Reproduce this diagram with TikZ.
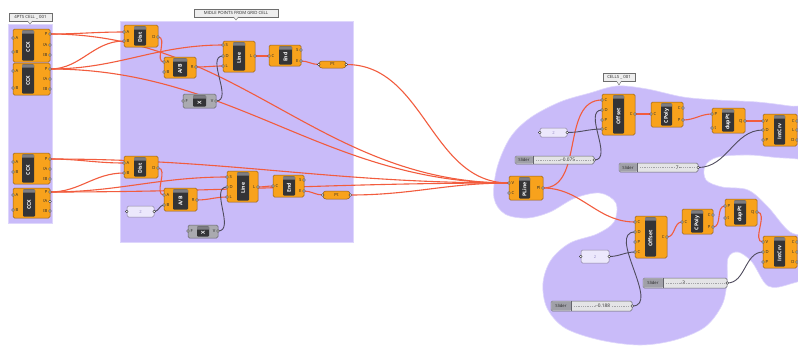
\documentclass[tikz,border=0pt]{standalone}
\usepackage{fontspec}
\setmainfont{Open Sans}
\usetikzlibrary{fit,calc}
\definecolor{ghorange}{RGB}{248,162,28}
\definecolor{ghborder}{RGB}{150,96,24}
\definecolor{ghdark}{RGB}{52,52,54}
\definecolor{ghcap}{RGB}{125,125,130}
\definecolor{ghgray}{RGB}{170,170,176}
\definecolor{ghgrayb}{RGB}{100,100,108}
\definecolor{grpfill}{RGB}{201,187,249}
\definecolor{grpline}{RGB}{222,214,252}
\definecolor{wirered}{RGB}{242,92,62}
\definecolor{wiredark}{RGB}{80,76,94}
\definecolor{ghtext}{RGB}{40,40,40}
\definecolor{panelfill}{RGB}{236,232,252}
\definecolor{panelline}{RGB}{140,132,160}
\definecolor{paneltext}{RGB}{150,140,200}
\definecolor{sllabel}{RGB}{160,160,168}
\definecolor{slbody}{RGB}{228,228,230}
\definecolor{tagfill}{RGB}{238,238,238}
\definecolor{tagline}{RGB}{110,110,110}
\pgfdeclarelayer{bg}\pgfdeclarelayer{wires}\pgfsetlayers{bg,wires,main}
\tikzset{
 comp/.style={rectangle, draw=ghborder, fill=ghorange, rounded corners=1.5pt, line width=0.5pt, inner sep=0pt},
 compgray/.style={comp, draw=ghgrayb, fill=ghgray},
 cbar/.style={rectangle, fill=ghdark, rounded corners=1pt, inner sep=0pt},
 cname/.style={font=\bfseries\fontsize{5.2}{5.2}\selectfont, text=white, rotate=90, inner sep=0pt},
 knob/.style={circle, draw=ghtext, fill=white, line width=0.35pt, inner sep=0pt, minimum size=2.6pt},
 plabel/.style={font=\fontsize{4.2}{4.2}\selectfont, text=ghtext, inner sep=0pt},
 wire/.style={out=0, in=180},
 redwire/.style={draw=wirered, line width=1.1pt},
 darkwire/.style={draw=wiredark, line width=0.9pt},
 ptcap/.style={rectangle, draw=ghborder, fill=ghorange, rounded corners=3pt, line width=0.5pt, inner sep=0pt},
 panelbox/.style={rectangle, draw=panelline, fill=panelfill, rounded corners=1.5pt, line width=0.5pt, inner sep=0pt},
 slbox/.style={rectangle, draw=ghgrayb, fill=slbody, rounded corners=1.5pt, line width=0.5pt, inner sep=0pt},
 tagbox/.style={rectangle, draw=tagline, fill=tagfill, line width=0.4pt, inner sep=0pt},
 tagtext/.style={font=\fontsize{4.3}{4.3}\selectfont, text=ghtext, inner sep=0pt},
 grp/.style={fill=grpfill, draw=grpline, line width=0.6pt},
}
% component: name, x1, y1, x2, y2, bar x1, bar x2, label, style
\newcommand\ghcomp[9]{%
 \node[#9, fit={(#2,#3)(#4,#5)}] (#1) {};
 \node[cbar, fit={(#6,#3+1.3)(#7,#5-1.3)}] (#1-bar) {};
 \fill[ghcap] (#6,#3+4.5) [rounded corners=1pt] -- (#6,#3+1.3) -- (#7,#3+1.3) [sharp corners] -- (#7,#3+4.5) -- cycle;
 \node[cname] (#1-name) at ($(#1-bar.center)+(0,1.6)$) {#8};
}
\newcommand\ghin[5]{%
 \coordinate (#1-#2) at (#3,#4);
 \node[knob] (#1-#2-k) at (#1-#2) {};
 \node[plabel, anchor=west] (#1-#2-t) at (#3+2.4,#4) {#5};
}
\newcommand\ghout[5]{%
 \coordinate (#1-#2) at (#3,#4);
 \node[knob] (#1-#2-k) at (#1-#2) {};
 \node[plabel, anchor=east] (#1-#2-t) at (#3-2.4,#4) {#5};
}
% point param: name x1 y1 x2 y2
\newcommand\ghpt[5]{%
 \node[ptcap, fit={(#2,#3)(#4,#5)}] (#1) {};
 \node[plabel] (#1-t) at (#1.center) {Pt};
 \coordinate (#1-in) at (#1.west);
 \coordinate (#1-out) at (#1.east);
 \node[knob] (#1-in-k) at (#1-in) {};
 \node[knob] (#1-out-k) at (#1-out) {};
}
% panel: name x1 y1 x2 y2 text
\newcommand\ghpanel[6]{%
 \node[panelbox, fit={(#2,#3)(#4,#5)}] (#1) {};
 \node[plabel, text=paneltext] (#1-t) at (#1.center) {#6};
 \coordinate (#1-in) at (#1.west);
 \coordinate (#1-out) at (#1.east);
 \node[knob] (#1-in-k) at (#1-in) {};
 \node[knob] (#1-out-k) at (#1-out) {};
}
% slider: name x1 y1 x2 y2 xsep xknob anchor value
\newcommand\ghslider[9]{%
 \node[slbox, fit={(#2,#3)(#4,#5)}] (#1) {};
 \fill[sllabel, rounded corners=1.2pt] (#2+0.3,#3+0.3) rectangle (#6,#5-0.3);
 \draw[ghgrayb, line width=0.3pt] (#6,#3) -- (#6,#5);
 \node[plabel] (#1-lab) at ($(#2,#3)!0.5!(#6,#5)$) {Slider};
 \draw[ghcap!70, line width=0.5pt, dash pattern=on 0.4pt off 1.4pt] (#6+3,{(#3+#5)/2}) -- (#4-3,{(#3+#5)/2});
 \node[circle, draw=ghtext, fill=slbody, line width=0.6pt, inner sep=0pt, minimum size=2.6pt] (#1-knobv) at (#7,{(#3+#5)/2}) {};
 \node[plabel, anchor=#8, fill=slbody, inner xsep=0.8pt, font=\fontsize{4.8}{4.8}\selectfont] (#1-val) at (#1-knobv.#8) {#9};
 \coordinate (#1-out) at (#1.east);
 \node[knob] (#1-out-k) at (#1-out) {};
}
% group tag: name x1 y1 x2 y2 xptr yptr text
\newcommand\ghtag[8]{%
 \node[tagbox, fit={(#2,#3)(#4,#5)}] (#1) {};
 \fill[tagfill] (#6-2.5,#5-0.3) -- (#6+2.5,#5-0.3) -- (#6,#7) -- cycle;
 \draw[tagline, line width=0.4pt] (#6-2.5,#5) -- (#6,#7) -- (#6+2.5,#5);
 \node[tagtext] (#1-t) at (#1.center) {#8};
}
\begin{document}
\begin{tikzpicture}[x=1pt, y=-1pt]
\useasboundingbox (0,0) rectangle (798,346);

% ---------- groups ----------
\begin{pgfonlayer}{bg}
\fill[white] (0,0) rectangle (798,346);
\begin{scope}
\clip (0,0) rectangle (798,346);
\path[grp] (8,24) rectangle (52,223);
\path[grp] (120,21) rectangle (353,242);
\path[grp] plot[smooth cycle, tension=0.55] coordinates {(497,168) (510,138) (530,118) (560,102) (590,93) (617,86) (647,89) (683,97) (717,100) (757,102) (790,106) (815,110) (815,155) (785,158) (750,155) (718,157) (705,166) (706,180) (722,187) (748,190) (768,207) (790,232) (815,240) (815,272) (790,284) (768,286) (752,262) (738,252) (728,258) (727,282) (722,305) (705,327) (675,340) (640,345) (600,340) (565,328) (547,308) (543,283) (551,260) (570,243) (597,234) (614,222) (616,203) (600,193) (575,198) (550,212) (527,218) (505,214) (494,198)};
\end{scope}
\end{pgfonlayer}
\ghtag{tag1}{9}{13}{52}{21}{30}{24}{4PTS CELL \_ 001}
\ghtag{tag2}{194}{9}{278}{17}{236}{20}{MIDLE POINTS FROM GRID CELL}
\ghtag{tag3}{603}{73}{635}{81}{619}{85}{CELLS \_ 001}

% ---------- group 1 ----------
\ghcomp{ccx1}{13}{29}{50}{62}{22}{34}{CCX}{comp}
\ghin{ccx1}{A}{13}{38}{A}\ghin{ccx1}{B}{13}{52}{B}
\ghout{ccx1}{P}{50}{34}{P}\ghout{ccx1}{tA}{50}{45}{tA}\ghout{ccx1}{tB}{50}{55}{tB}
\ghcomp{ccx2}{13}{63}{50}{95}{22}{34}{CCX}{comp}
\ghin{ccx2}{A}{13}{71}{A}\ghin{ccx2}{B}{13}{88}{B}
\ghout{ccx2}{P}{50}{69}{P}\ghout{ccx2}{tA}{50}{79}{tA}\ghout{ccx2}{tB}{50}{89}{tB}
\ghcomp{ccx3}{13}{153}{50}{184}{22}{34}{CCX}{comp}
\ghin{ccx3}{A}{13}{162}{A}\ghin{ccx3}{B}{13}{172}{B}
\ghout{ccx3}{P}{50}{159}{P}\ghout{ccx3}{tA}{50}{169}{tA}\ghout{ccx3}{tB}{50}{179}{tB}
\ghcomp{ccx4}{13}{188}{50}{218}{23}{35}{CCX}{comp}
\ghin{ccx4}{A}{13}{195}{A}\ghin{ccx4}{B}{13}{210}{B}
\ghout{ccx4}{P}{50}{192}{P}\ghout{ccx4}{tA}{50}{201.5}{tA}\ghout{ccx4}{tB}{50}{211}{tB}

% ---------- group 2, upper ----------
\ghcomp{dist1}{124}{25}{158}{47}{134}{146}{Dist}{comp}
\ghin{dist1}{A}{124}{32}{A}\ghin{dist1}{B}{124}{41}{B}\ghout{dist1}{D}{158}{37}{D}
\ghcomp{ab1}{164}{57}{196}{78}{173}{187}{A/B}{comp}
\ghin{ab1}{A}{164}{62}{A}\ghin{ab1}{B}{164}{72}{B}\ghout{ab1}{R}{196}{67}{R}
\ghcomp{line1}{223}{41}{255}{72}{233}{245}{Line}{comp}
\ghin{line1}{S}{223}{45}{S}\ghin{line1}{D}{223}{56}{D}\ghin{line1}{L}{223}{66}{L}\ghout{line1}{Lo}{255}{56}{L}
\ghcomp{end1}{269}{45}{301}{66}{279}{292}{End}{comp}
\ghin{end1}{C}{269}{56}{C}\ghout{end1}{S}{301}{50}{S}\ghout{end1}{E}{301}{61}{E}
\ghpt{pt1}{319}{61}{346}{68}
\ghcomp{x1}{183}{94}{216}{108}{193}{206}{X}{compgray}
\ghin{x1}{F}{183}{101}{F}\ghout{x1}{V}{216}{101}{V}

% ---------- group 2, lower ----------
\ghcomp{dist2}{124}{156}{158}{178}{134}{146}{Dist}{comp}
\ghin{dist2}{A}{124}{163}{A}\ghin{dist2}{B}{124}{173}{B}\ghout{dist2}{D}{158}{168}{D}
\ghcomp{ab2}{164}{188}{197}{211}{173}{188}{A/B}{comp}
\ghin{ab2}{A}{164}{195}{A}\ghin{ab2}{B}{164}{205}{B}\ghout{ab2}{R}{197}{200}{R}
\ghpanel{pan1}{127}{206}{154}{217}{2}
\ghcomp{line2}{227}{171}{258}{202}{237}{249}{Line}{comp}
\ghin{line2}{S}{227}{177}{S}\ghin{line2}{D}{227}{187}{D}\ghin{line2}{L}{227}{197}{L}\ghout{line2}{Lo}{258}{187}{L}
\ghcomp{end2}{273}{175}{304}{197}{283}{295}{End}{comp}
\ghin{end2}{C}{273}{186}{C}\ghout{end2}{S}{304}{180}{S}\ghout{end2}{E}{304}{191}{E}
\ghpt{pt2}{323}{191}{350}{199}
\ghcomp{x2}{188}{225}{218}{238}{197}{209}{X}{compgray}
\ghin{x2}{F}{188}{231}{F}\ghout{x2}{V}{218}{231}{V}

% ---------- group 3 ----------
\ghcomp{pline}{509}{176}{543}{200}{519}{530}{PLine}{comp}
\ghin{pline}{V}{509}{183}{V}\ghin{pline}{C}{509}{193}{C}\ghout{pline}{Pl}{543}{188}{Pl}
\ghpanel{pan2}{540}{128}{567}{137}{2}
\ghslider{sl1}{515}{156}{594}{164}{533}{562}{west}{-0.075}
\ghslider{sl2}{619}{163}{698}{172}{637}{678}{east}{7}
\ghcomp{off1}{602}{94}{635}{135}{613}{624}{Offset}{comp}
\ghin{off1}{C}{602}{100}{C}\ghin{off1}{D}{602}{110}{D}\ghin{off1}{P}{602}{120}{P}\ghin{off1}{Cb}{602}{129}{C}\ghout{off1}{Co}{635}{114}{C}
\ghcomp{cp1}{651}{102}{683}{127}{661}{672}{CPoly}{comp}
\ghin{cp1}{C}{651}{114}{C}\ghout{cp1}{Co}{683}{108}{C}\ghout{cp1}{P}{683}{120}{P}
\ghcomp{dup1}{712}{108}{745}{133}{722}{734}{dupPt}{comp}
\ghin{dup1}{P}{712}{114}{P}\ghin{dup1}{t}{712}{128}{t}\ghout{dup1}{Q}{745}{121}{Q}
\ghcomp{int1}{763}{114}{797}{146}{774}{785}{IntCrv}{comp}
\ghin{int1}{V}{763}{121}{V}\ghin{int1}{D}{763}{130}{D}\ghin{int1}{P}{763}{140}{P}
\ghout{int1}{C}{797}{121}{C}\ghout{int1}{L}{797}{130}{L}\ghout{int1}{Do}{797}{140}{D}

\ghpanel{pan3}{581}{250}{609}{263}{2}
\ghslider{sl3}{643}{278}{727}{288}{663}{683}{west}{3}
\ghslider{sl4}{551}{301}{632}{311}{571}{597}{west}{-0.188}
\ghcomp{off2}{635}{216}{667}{258}{645}{656}{Offset}{comp}
\ghin{off2}{C}{635}{222}{C}\ghin{off2}{D}{635}{232}{D}\ghin{off2}{P}{635}{242}{P}\ghin{off2}{Cb}{635}{252}{C}\ghout{off2}{Co}{667}{237}{C}
\ghcomp{cp2}{682}{209}{713}{234}{691}{703}{CPoly}{comp}
\ghin{cp2}{C}{682}{222}{C}\ghout{cp2}{Co}{713}{215}{C}\ghout{cp2}{P}{713}{227}{P}
\ghcomp{dup2}{725}{199}{757}{226}{734}{746}{dupPt}{comp}
\ghin{dup2}{P}{725}{206}{P}\ghin{dup2}{t}{725}{218}{t}\ghout{dup2}{Q}{757}{212}{Q}
\ghcomp{int2}{763}{236}{797}{268}{774}{785}{IntCrv}{comp}
\ghin{int2}{V}{763}{242}{V}\ghin{int2}{D}{763}{252}{D}\ghin{int2}{P}{763}{262}{P}
\ghout{int2}{C}{797}{242}{C}\ghout{int2}{L}{797}{252}{L}\ghout{int2}{Do}{797}{262}{D}

% ---------- wires ----------
\begin{pgfonlayer}{wires}
\draw[redwire] (ccx1-P) to[wire] (dist1-A);
\draw[redwire] (ccx1-P) to[wire] (pline-V);
\draw[redwire] (ccx2-P) to[wire] (dist1-B);
\draw[redwire] (ccx2-P) to[wire] (line1-S);
\draw[redwire] (ccx2-P) to[wire] (pline-V);
\draw[redwire] (dist1-D) to[wire] (ab1-A);
\draw[redwire] (ab1-R) to[wire] (line1-L);
\draw[redwire] (line1-Lo) to[wire] (end1-C);
\draw[redwire] (end1-E) to[wire] (pt1-in);
\draw[redwire] (pt1-out) to[wire] (pline-V);
\draw[redwire] (ccx3-P) to[wire] (dist2-A);
\draw[redwire] (ccx3-P) to[wire] (pline-V);
\draw[redwire] (ccx4-P) to[wire] (dist2-B);
\draw[redwire] (ccx4-P) to[wire] (line2-S);
\draw[redwire] (ccx4-P) to[wire] (pline-V);
\draw[redwire] (dist2-D) to[wire] (ab2-A);
\draw[redwire] (ab2-R) to[wire] (line2-L);
\draw[redwire] (line2-Lo) to[wire] (end2-C);
\draw[redwire] (end2-E) to[wire] (pt2-in);
\draw[redwire] (pt2-out) to[wire] (pline-V);
\draw[redwire] (pline-Pl) to[wire] (off1-C);
\draw[redwire] (pline-Pl) to[wire] (off2-C);
\draw[redwire] (off1-Co) to[wire] (cp1-C);
\draw[redwire] (cp1-P) to[wire] (dup1-P);
\draw[redwire] (dup1-Q) to[wire] (int1-V);
\draw[redwire] (off2-Co) to[wire] (cp2-C);
\draw[redwire] (cp2-P) to[wire] (dup2-P);
\draw[redwire] (dup2-Q) to[wire] (int2-V);
\draw[darkwire] (x1-V) to[wire] (line1-D);
\draw[darkwire] (x2-V) to[wire] (line2-D);
\draw[darkwire] (pan1-out) to[wire] (ab2-B);
\draw[darkwire] (sl1-out) to[wire] (off1-D);
\draw[darkwire] (pan2-out) to[wire] (off1-Cb);
\draw[darkwire] (sl2-out) to[wire] (int1-D);
\draw[darkwire] (sl4-out) to[wire] (off2-D);
\draw[darkwire] (pan3-out) to[wire] (off2-Cb);
\draw[darkwire] (sl3-out) to[wire] (int2-D);
\end{pgfonlayer}
\end{tikzpicture}
\end{document}
